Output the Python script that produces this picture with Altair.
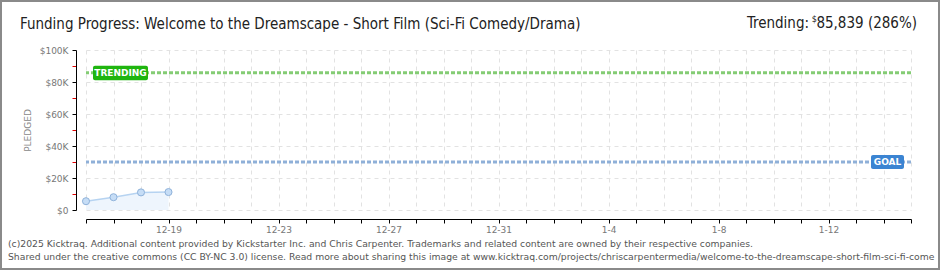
import altair as alt
import pandas as pd

# ---- data ----
dates = ["2024-12-16", "2024-12-17", "2024-12-18", "2024-12-19"]
pledged = [5500, 8000, 11000, 11200]
goal_value = [30000]
trending_value = [85839]
x_start = "2024-12-16"
x_end = "2025-01-15"
x_labels = ["12-19", "12-23", "12-27", "12-31", "1-4", "1-8", "1-12"]
y_ticks = [0, 10000, 20000, 30000, 40000, 50000, 60000, 70000, 80000, 90000, 100000]
title_text = ["Funding Progress: Welcome to the Dreamscape - Short Film (Sci-Fi Comedy/Drama)"]
trend_word = ["Trending:"]
trend_currency = ["$"]
trend_amount = ["85,839 (286%)"]
footer_lines = [
    "(c)2025 Kicktraq. Additional content provided by Kickstarter Inc. and Chris Carpenter. Trademarks and related content are owned by their respective companies.",
    "Shared under the creative commons (CC BY-NC 3.0) license. Read more about sharing this image at www.kicktraq.com/projects/chriscarpentermedia/welcome-to-the-dreamscape-short-film-sci-fi-comedy-drama/",
]

W, H = 825, 160
TITLE_FONT = "'DejaVu Sans Condensed', 'Liberation Sans Narrow', Roboto, sans-serif"


def dt(s):
    d = pd.Timestamp(s)
    return alt.DateTime(year=d.year, month=d.month, date=d.day, utc=True)


axis_days = [dt(d) for d in pd.date_range(x_start, x_end, freq="D")]
label_list = "[" + ",".join("'" + l + "'" for l in x_labels) + "]"

df = pd.DataFrame({"date": dates, "pledged": pledged})
goal_df = pd.DataFrame({"v": goal_value, "label": ["GOAL"]})
trend_df = pd.DataFrame({"v": trending_value, "label": ["TRENDING"]})

x_enc = alt.X(
    "date:T",
    scale=alt.Scale(type="utc", domain=[dt(x_start), dt(x_end)]),
    axis=alt.Axis(
        values=axis_days,
        tickCount=len(axis_days),
        labelExpr=f"indexof({label_list}, utcFormat(datum.value, '%-m-%-d')) >= 0 ? utcFormat(datum.value, '%-m-%-d') : ''",
        labelOverlap=False,
        offset=9,
        grid=True,
        gridDash=[4, 4],
        gridColor="#e2e2e2",
        domainColor="#000",
        tickColor="#000",
        tickSize=4,
        labelFont="DejaVu Sans",
        labelFontSize=9,
        labelColor="#777",
        labelPadding=2,
        title=None,
    ),
)

y_enc = alt.Y(
    "pledged:Q",
    scale=alt.Scale(domain=[0, 100000], nice=False),
    axis=alt.Axis(
        values=y_ticks,
        tickCount=len(y_ticks),
        labelExpr="datum.value == 0 ? '$0' : (datum.value % 20000 == 0 ? '$' + format(datum.value / 1000, 'd') + 'K' : '')",
        labelOverlap=False,
        offset=10,
        grid=True,
        gridDash=[4, 4],
        gridColor={"condition": {"test": "datum.value % 20000 == 0", "value": "#e2e2e2"}, "value": "transparent"},
        tickColor={"condition": {"test": "datum.value % 20000 == 0", "value": "#000"}, "value": "#e00000"},
        domainColor="#000",
        tickSize=4,
        labelFont="DejaVu Sans",
        labelFontSize=9,
        labelColor="#777",
        labelPadding=4,
        title="PLEDGED",
        titleFont="DejaVu Sans",
        titleFontSize=9,
        titleFontWeight="normal",
        titleColor="#888",
        titleX=-49,
        titleY=80,
        titleAngle=-90,
        titleBaseline="middle",
        titleAlign="center",
    ),
)

base = alt.Chart(df)
area = base.mark_area(color="#eef5fd", opacity=1).encode(x=x_enc, y=y_enc)
line = base.mark_line(color="#b6d3f1", strokeWidth=1.5).encode(x="date:T", y="pledged:Q")
pts = base.mark_point(filled=True, size=50, fill="#c6ddf6", stroke="#8fb2da", strokeWidth=1, opacity=1).encode(
    x="date:T", y="pledged:Q"
)

goal_rule = alt.Chart(goal_df).mark_rule(color="#8fb0d8", strokeWidth=3, strokeDash=[4, 2]).encode(y="v:Q")
trend_rule = alt.Chart(trend_df).mark_rule(color="#84cc74", strokeWidth=3, strokeDash=[4, 2]).encode(y="v:Q")

goal_box = alt.Chart(goal_df).mark_rect(color="#3b84d2", yOffset=-7, y2Offset=7, cornerRadius=2).encode(
    y="v:Q", y2="v:Q", x=alt.value(785), x2=alt.value(818)
)
goal_lbl = alt.Chart(goal_df).mark_text(
    color="white", font="DejaVu Sans", fontSize=9, fontWeight="bold", baseline="middle", align="center"
).encode(y="v:Q", x=alt.value(801.5), text="label:N")

trend_box = alt.Chart(trend_df).mark_rect(color="#1fb50f", yOffset=-7, y2Offset=7.5, cornerRadius=2).encode(
    y="v:Q", y2="v:Q", x=alt.value(7), x2=alt.value(62)
)
trend_lbl = alt.Chart(trend_df).mark_text(
    color="white", font="DejaVu Sans", fontSize=9, fontWeight="bold", baseline="middle", align="center"
).encode(y="v:Q", x=alt.value(34.5), text="label:N")

title = alt.Chart(pd.DataFrame({"t": title_text})).mark_text(
    font=TITLE_FONT, fontSize=15, color="#222", align="left", baseline="middle"
).encode(x=alt.value(-66), y=alt.value(-26), text="t:N")

trend_a = alt.Chart(pd.DataFrame({"t": trend_amount})).mark_text(
    font=TITLE_FONT, fontSize=15, color="#222", align="right", baseline="middle"
).encode(x=alt.value(831), y=alt.value(-27), text="t:N")
trend_c = alt.Chart(pd.DataFrame({"t": trend_currency})).mark_text(
    font=TITLE_FONT, fontSize=9, color="#222", align="right", baseline="middle"
).encode(x=alt.value(731), y=alt.value(-31), text="t:N")
trend_w = alt.Chart(pd.DataFrame({"t": trend_word})).mark_text(
    font=TITLE_FONT, fontSize=15, color="#222", align="right", baseline="middle"
).encode(x=alt.value(723), y=alt.value(-27), text="t:N")

foot1 = alt.Chart(pd.DataFrame({"t": [footer_lines[0]]})).mark_text(
    font="DejaVu Sans", fontSize=9.25, color="#555", align="left", baseline="middle"
).encode(x=alt.value(-78), y=alt.value(193.5), text="t:N")
foot2 = alt.Chart(pd.DataFrame({"t": [footer_lines[1]]})).mark_text(
    font="DejaVu Sans", fontSize=9.25, color="#555", align="left", baseline="middle", limit=932, ellipsis=" "
).encode(x=alt.value(-78), y=alt.value(206.5), text="t:N")

frame = alt.Chart(pd.DataFrame({"a": [0]})).mark_rect(
    fillOpacity=0, stroke="#8a8a8a", strokeWidth=2
).encode(x=alt.value(-85), x2=alt.value(853), y=alt.value(-49), y2=alt.value(219))

chart = (
    alt.layer(area, line, goal_rule, trend_rule, pts, goal_box, goal_lbl, trend_box, trend_lbl,
              title, trend_a, trend_c, trend_w, foot1, foot2, frame)
    .properties(
        width=W,
        height=H,
        autosize=alt.AutoSizeParams(type="none"),
        padding={"left": 86, "top": 50, "right": 29, "bottom": 60},
        background="white",
    )
    .configure_view(stroke=None)
)

chart.save("out.html", embed_options={"renderer": "svg", "actions": False})
